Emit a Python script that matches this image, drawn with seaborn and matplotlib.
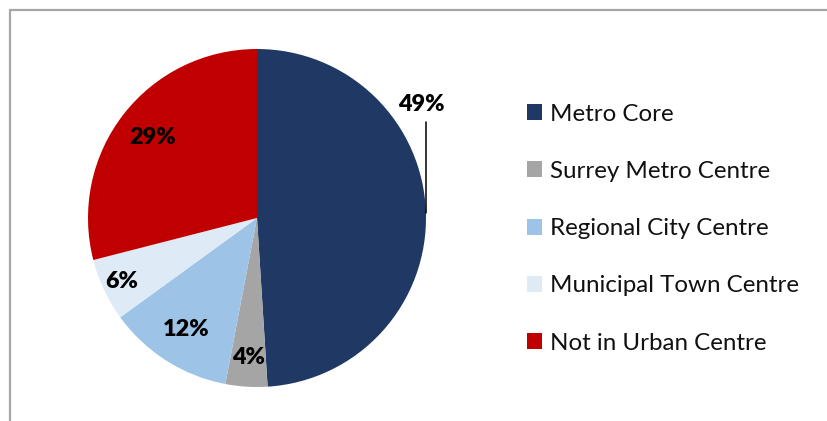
import numpy as np
import matplotlib
matplotlib.use("Agg")
import matplotlib.pyplot as plt
import seaborn as sns

categories = ["Metro Core", "Surrey Metro Centre", "Regional City Centre",
              "Municipal Town Centre", "Not in Urban Centre"]
values = [49, 4, 12, 6, 29]
colors = ["#1F3864", "#A5A5A5", "#9DC3E6", "#DEEBF7", "#C00000"]

# label radial distances (style)
label_dist = [None, 0.83, 0.78, 0.885, 0.78]

sns.set_theme(style="white")
plt.rcParams['font.family'] = ['Lato', 'DejaVu Sans']

W, H = 828, 421
fig = plt.figure(figsize=(W / 100, H / 100), dpi=100)
fig.patch.set_facecolor("white")

# frame (chart border, cropped on right/bottom)
fig.add_artist(plt.Line2D([9.5 / W, 9.5 / W], [0, 1 - 9.5 / H], transform=fig.transFigure,
                          color="#A6A6A6", lw=1.6))
fig.add_artist(plt.Line2D([9.5 / W, 1], [1 - 9.5 / H, 1 - 9.5 / H], transform=fig.transFigure,
                          color="#A6A6A6", lw=1.6))

cx, cy, r = 257, 218, 169
ax = fig.add_axes([(cx - r) / W, (H - cy - r) / H, 2 * r / W, 2 * r / H])
wedges, _ = ax.pie(values, colors=colors, startangle=90, counterclock=False,
                   radius=1, wedgeprops=dict(linewidth=0))
ax.set_xlim(-1, 1)
ax.set_ylim(-1, 1)
ax.set_aspect("equal")
ax.axis("off")

lfs = 16.8
total = sum(values)
for i, (w, v) in enumerate(zip(wedges, values)):
    mid = np.deg2rad((w.theta1 + w.theta2) / 2)
    txt = f"{round(100 * v / total)}%"
    if label_dist[i] is None:
        ex, ey = np.cos(mid), np.sin(mid)
        ax.plot([ex, ex], [ey, 0.57], color="black", lw=1.1, clip_on=False)
        ax.text(ex - 0.025, 0.67, txt, ha="center", va="center", fontsize=lfs,
                fontweight="heavy", color="black", clip_on=False)
    else:
        d = label_dist[i]
        ax.text(d * np.cos(mid), d * np.sin(mid), txt, ha="center", va="center",
                fontsize=lfs, fontweight="heavy", color="black")

fs = 17.4
leg = fig.legend(wedges, categories, loc="upper left",
                 bbox_to_anchor=(517 / W, 1 - 94 / H), frameon=False,
                 fontsize=fs, handlelength=0.64, handleheight=0.64,
                 handletextpad=0.34, labelspacing=1.5, borderaxespad=0)
for t in leg.get_texts():
    t.set_color("#111111")

fig.savefig("out.png", dpi=100, facecolor="white")
